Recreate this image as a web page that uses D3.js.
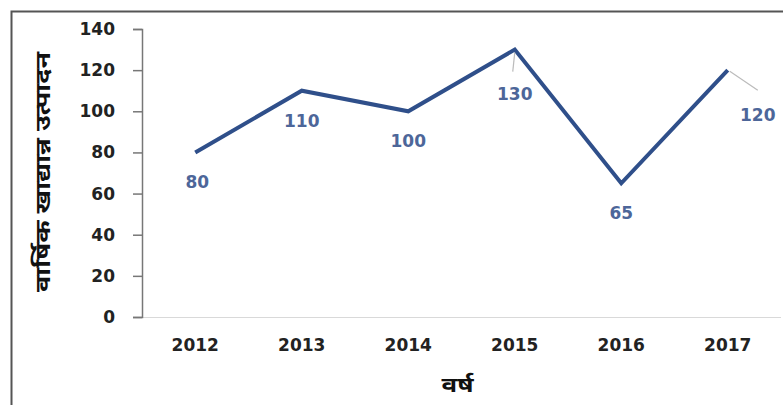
<!DOCTYPE html>
<html><head><meta charset="utf-8">
<script src="https://cdn.jsdelivr.net/npm/d3@7"></script>
<style>body{margin:0;background:#fff}</style>
</head><body>
<svg id="c" width="783" height="405"></svg>
<script>
const years = ["2012","2013","2014","2015","2016","2017"];
const production = [80,110,100,130,65,120];
const yTicks = [0,20,40,60,80,100,120,140];
const yTitle = "वार्षिक खाद्यान्न उत्पादन";
const xTitle = "वर्ष";

(function(){
const svg = d3.select("#c");
const pLeft=142, pRight=781, pTop=29, pBottom=317;
svg.append("path").attr("d","M11.5,405 V11.5 H783").attr("fill","none").attr("stroke","#555").attr("stroke-width",2);

const x = d3.scaleBand().domain(years).range([pLeft,pRight]);
const y = d3.scaleLinear().domain([0,140]).range([pBottom,pTop]);

svg.append("line").attr("x1",pLeft).attr("x2",pRight).attr("y1",pBottom+0.5).attr("y2",pBottom+0.5).attr("stroke","#d9d9d9").attr("stroke-width",1);

const numFont = "DejaVu Sans";
const ya = svg.append("g").attr("transform",`translate(${pLeft},0)`)
  .call(d3.axisLeft(y).tickValues(yTicks).tickSize(9).tickPadding(18));
ya.select(".domain").attr("stroke","#777").attr("stroke-width",1.5);
ya.selectAll(".tick line").attr("stroke","#777").attr("stroke-width",1.5);
ya.selectAll("text").attr("font-family",numFont).attr("font-weight","bold").attr("font-size",17).attr("fill","#222");

const xa = svg.append("g").attr("transform",`translate(0,${pBottom})`)
  .call(d3.axisBottom(x).tickSize(0).tickPadding(22));
xa.select(".domain").remove();
xa.selectAll("text").attr("font-family",numFont).attr("font-weight","bold").attr("font-size",17).attr("fill","#222");

const cx = d => x(d)+x.bandwidth()/2;
const line = d3.line().x((d,i)=>cx(years[i])).y(d=>y(d));
svg.append("path").datum(production).attr("d",line).attr("fill","none")
  .attr("stroke","#2f4f8a").attr("stroke-width",4).attr("stroke-linejoin","miter");

const labelOff = [[2,30],[0,30],[0,30],[0,44],[0,30],[30,45]];
production.forEach((v,i)=>{
  const px=cx(years[i]), py=y(v);
  const [dx,dy]=labelOff[i];
  if(i===3){
    svg.append("line").attr("x1",px).attr("y1",py+3).attr("x2",px-2).attr("y2",py+22).attr("stroke","#bbb").attr("stroke-width",1.2);
  }
  if(i===5){
    svg.append("line").attr("x1",px+2).attr("y1",py+1).attr("x2",px+30).attr("y2",py+20).attr("stroke","#bbb").attr("stroke-width",1.2);
  }
  svg.append("text").attr("x",px+dx).attr("y",py+dy).attr("text-anchor","middle").attr("dominant-baseline","central")
    .attr("font-family",numFont).attr("font-weight","bold").attr("font-size",17).attr("fill","#4d6699").text(v);
});

svg.append("text").attr("transform","translate(42,172) rotate(-90)").attr("text-anchor","middle").attr("dominant-baseline","central")
  .attr("font-family","Noto Sans, sans-serif").attr("font-weight","bold").attr("font-size",21)
  .attr("textLength",240).attr("lengthAdjust","spacingAndGlyphs").attr("fill","#111").text(yTitle);
svg.append("text").attr("x",(pLeft+pRight)/2-4).attr("y",384).attr("text-anchor","middle").attr("dominant-baseline","central")
  .attr("font-family","Noto Sans, sans-serif").attr("font-weight","bold").attr("font-size",21)
  .attr("textLength",32).attr("lengthAdjust","spacingAndGlyphs").attr("fill","#111").text(xTitle);
})();
</script>
</body></html>
